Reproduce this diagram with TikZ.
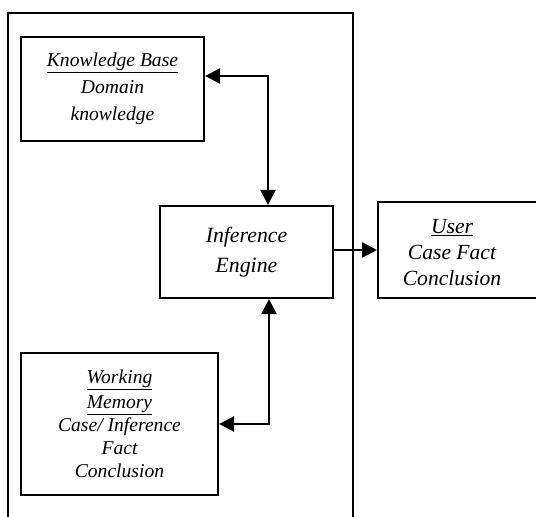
\documentclass[tikz,border=0pt]{standalone}
\usepackage{fontspec}
\setmainfont{Liberation Serif}
\usetikzlibrary{arrows.meta}
\tikzset{
  boxnode/.style={draw, line width=2.2pt, rectangle, inner sep=0pt, align=center,
    font=\itshape\fontsize{19.6}{27}\selectfont},
  link/.style={line width=2.6pt, -{Triangle[length=15pt,width=15pt]}},
  biglink/.style={line width=2.6pt, {Triangle[length=15pt,width=15pt]}-{Triangle[length=15pt,width=15pt]}},
  frame/.style={line width=2pt}
}
\begin{document}
\begin{tikzpicture}[x=1pt,y=-1pt]
\useasboundingbox (0,0) rectangle (536,517);
\clip (0,0) rectangle (536,517);
% outer frame
\coordinate (fbl) at (8,520);
\coordinate (ftl) at (8,13);
\coordinate (ftr) at (353,13);
\coordinate (fbr) at (353,520);
\draw[frame] (fbl) -- (ftl) -- (ftr) -- (fbr);
% boxes
\node[boxnode, minimum width=183pt, minimum height=104pt] (kb) at (112.5,89)
  {\underline{Knowledge Base}\\Domain\\knowledge};
\node[boxnode, minimum width=173pt, minimum height=92pt,
  font=\itshape\fontsize{21.8}{30}\selectfont] (ie) at (246.5,252)
  {Inference\\Engine};
\node[boxnode, minimum width=190pt, minimum height=96pt, anchor=west] (us) at (377,250) {};
\node[font=\itshape\fontsize{21.6}{26}\selectfont, align=center, inner sep=0pt] (ust) at (452,253)
  {\underline{User}\\Case Fact\\Conclusion};
\node[boxnode, minimum width=197pt, minimum height=142pt,
  font=\itshape\fontsize{19.6}{23}\selectfont] (wm) at (119.5,424)
  {\underline{Working}\\[2pt]\underline{Memory}\\Case/ Inference\\Fact\\Conclusion};
% connectors
\draw[biglink] ([yshift=13pt]kb.east) -| ([xshift=21.5pt]ie.north);
\draw[link] (ie.east |- us.west) -- (us.west);
\draw[biglink] ([xshift=22.5pt]ie.south) |- (wm.east);
\end{tikzpicture}
\end{document}
